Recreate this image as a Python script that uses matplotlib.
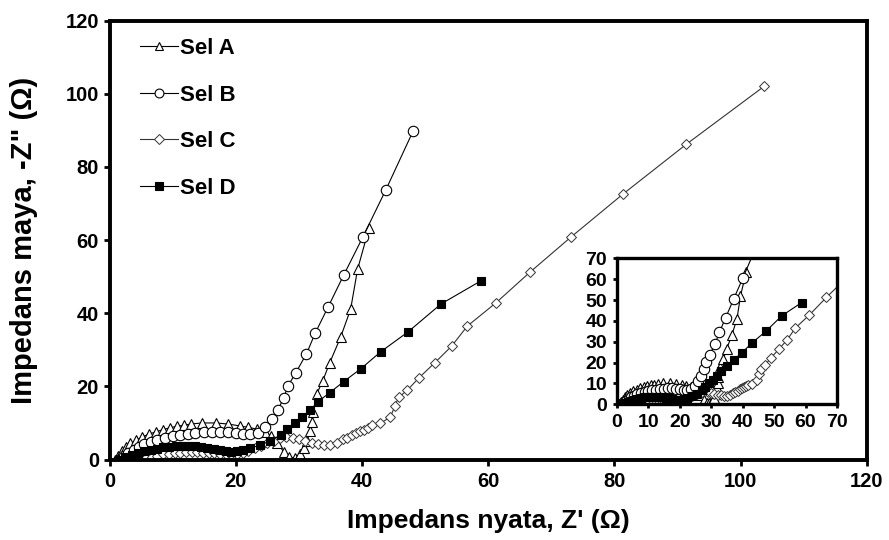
import matplotlib
matplotlib.use('Agg')
import matplotlib.pyplot as plt

plt.rcParams['font.family'] = ['Liberation Sans', 'DejaVu Sans']
plt.rcParams['font.weight'] = 'bold'

# Sel A (segitiga)
a_x = [0.8, 1.4, 2.0, 2.6, 3.3, 4.2, 5.2, 6.3, 7.4, 8.5, 9.6, 10.7, 11.8, 12.9, 14.6,
       16.9, 18.8, 20.6, 22.0, 23.4, 24.6, 25.6, 26.6, 27.6, 28.5, 29.4, 30.2, 30.8,
       31.3, 31.7, 32.0, 32.3, 32.8, 33.8, 34.9, 36.6, 38.2, 39.3, 41.1]
a_y = [0.0, 1.1, 2.2, 3.3, 4.4, 5.3, 6.2, 7.0, 7.6, 8.2, 8.7, 9.1, 9.4, 9.7, 10.0,
       10.0, 9.7, 9.2, 8.8, 8.3, 7.6, 6.5, 4.5, 2.1, 0.6, 0.5, 1.4, 3.2,
       5.2, 7.8, 10.2, 13.0, 17.8, 21.6, 26.5, 33.4, 41.1, 52.0, 63.2]

# Sel B (lingkaran)
b_x = [1.5, 2.3, 3.0, 3.8, 4.6, 5.5, 6.5, 7.6, 8.8, 10.0, 11.2, 12.4, 13.6, 14.9, 16.2,
       17.5, 18.8, 20.0, 21.2, 22.3, 23.6, 24.7, 25.8, 26.7, 27.6, 28.3, 29.5, 31.2,
       32.6, 34.6, 37.1, 40.1, 43.8, 48.1]
b_y = [0.0, 0.9, 1.8, 2.7, 3.5, 4.2, 4.8, 5.4, 5.9, 6.3, 6.7, 7.0, 7.3, 7.5, 7.6,
       7.6, 7.5, 7.3, 7.0, 6.9, 7.2, 8.9, 11.2, 13.6, 16.9, 20.2, 23.7, 28.9,
       34.6, 41.6, 50.4, 60.7, 73.8, 89.8]

# Sel C (belah ketupat)
c_x = [5.0, 5.8, 6.7, 7.6, 8.5, 9.4, 10.3, 11.2, 12.1, 13.0, 13.9, 14.8, 15.7, 16.6,
       17.5, 18.4, 19.3, 20.2, 21.1, 22.0, 23.0, 24.0, 25.0, 26.0, 27.0, 28.0, 29.0,
       30.0, 31.0, 32.0, 33.0, 34.0, 35.0, 36.0, 37.0, 37.7, 38.4, 39.0, 39.7, 40.3,
       41.0, 41.6, 42.9, 44.5, 45.2, 45.8, 47.2, 49.0, 51.5, 54.2, 56.7, 61.2, 66.6,
       73.1, 81.3, 91.4, 103.7]
c_y = [0.0, 0.4, 0.8, 1.1, 1.4, 1.6, 1.8, 1.9, 2.0, 2.0, 2.0, 1.9, 1.8, 1.7,
       1.6, 1.5, 1.5, 1.6, 1.9, 2.4, 3.1, 3.8, 4.5, 5.2, 5.8, 6.2, 6.0,
       5.5, 5.0, 4.6, 4.3, 4.1, 4.0, 4.5, 5.5, 5.9, 6.6, 7.2, 7.7, 8.1,
       8.6, 9.4, 9.9, 11.6, 14.6, 17.0, 19.0, 22.3, 26.4, 31.0, 36.5, 42.8, 51.2,
       60.8, 72.5, 86.2, 102.0]

# Sel D (kotak hitam)
d_x = [1.5, 2.5, 3.5, 4.5, 5.5, 6.5, 7.5, 8.5, 9.5, 10.5, 11.5, 12.5, 13.5, 14.5,
       15.5, 16.5, 17.5, 18.5, 19.3, 20.2, 21.2, 22.3, 23.9, 25.5, 27.1, 28.1, 29.4,
       30.5, 31.8, 33.0, 34.9, 37.1, 39.8, 43.0, 47.3, 52.5, 58.8]
d_y = [0.0, 0.6, 1.2, 1.8, 2.3, 2.7, 3.0, 3.3, 3.5, 3.6, 3.7, 3.7, 3.6, 3.4,
       3.2, 2.9, 2.6, 2.3, 2.1, 2.2, 2.6, 3.1, 4.0, 5.1, 6.7, 8.3, 10.1,
       11.7, 13.5, 15.8, 18.3, 21.3, 24.8, 29.5, 34.9, 42.5, 48.8]

labels = ['Sel A', 'Sel B', 'Sel C', 'Sel D']


def draw_series(ax, lw=0.8):
    ax.plot(a_x, a_y, color='black', lw=lw, marker='^', ms=7, mfc='white',
            mec='black', mew=0.8, label=labels[0])
    ax.plot(b_x, b_y, color='black', lw=lw, marker='o', ms=7.5, mfc='white',
            mec='black', mew=0.8, label=labels[1])
    ax.plot(c_x, c_y, color='#333333', lw=lw, marker='D', ms=5.5, mfc='white',
            mec='#333333', mew=0.7, label=labels[2])
    ax.plot(d_x, d_y, color='black', lw=lw, marker='s', ms=6, mfc='black',
            mec='black', mew=0.8, label=labels[3])


def style_axes(ax, spine_w, fs):
    for s in ax.spines.values():
        s.set_linewidth(spine_w)
    ax.tick_params(direction='out', length=4, width=2, labelsize=fs)
    for t in ax.get_xticklabels() + ax.get_yticklabels():
        t.set_fontweight('bold')


fig = plt.figure(figsize=(8.89, 5.4), dpi=100)
ax = fig.add_axes([0.1232, 0.149, 0.852, 0.813])
draw_series(ax)
ax.set_xlim(0, 120)
ax.set_ylim(0, 120)
ax.set_xticks(range(0, 121, 20))
ax.set_yticks(range(0, 121, 20))
style_axes(ax, 2.8, 14.5)
ax.tick_params(axis='x', pad=5)
ax.set_xlabel("Impedans nyata, Z' (\u03a9)", fontsize=19, fontweight='bold', labelpad=13)
ax.set_ylabel('Impedans maya, -Z" (\u03a9)', fontsize=21, fontweight='bold', labelpad=20)

leg = ax.legend(loc='upper left', bbox_to_anchor=(0.04, 0.96), frameon=False,
                borderpad=0, borderaxespad=0, handlelength=1.7, handletextpad=0.12,
                labelspacing=1.15, markerscale=0.85,
                prop={'size': 16, 'weight': 'bold'})

# grafik sisipan
axin = fig.add_axes([0.694, 0.2513, 0.2475, 0.2704])
draw_series(axin)
axin.set_xlim(0, 70)
axin.set_ylim(0, 70)
axin.set_xticks(range(0, 71, 10))
axin.set_yticks(range(0, 71, 10))
style_axes(axin, 2.4, 14)
axin.tick_params(length=3, pad=4)

fig.savefig('out.png', dpi=100)
